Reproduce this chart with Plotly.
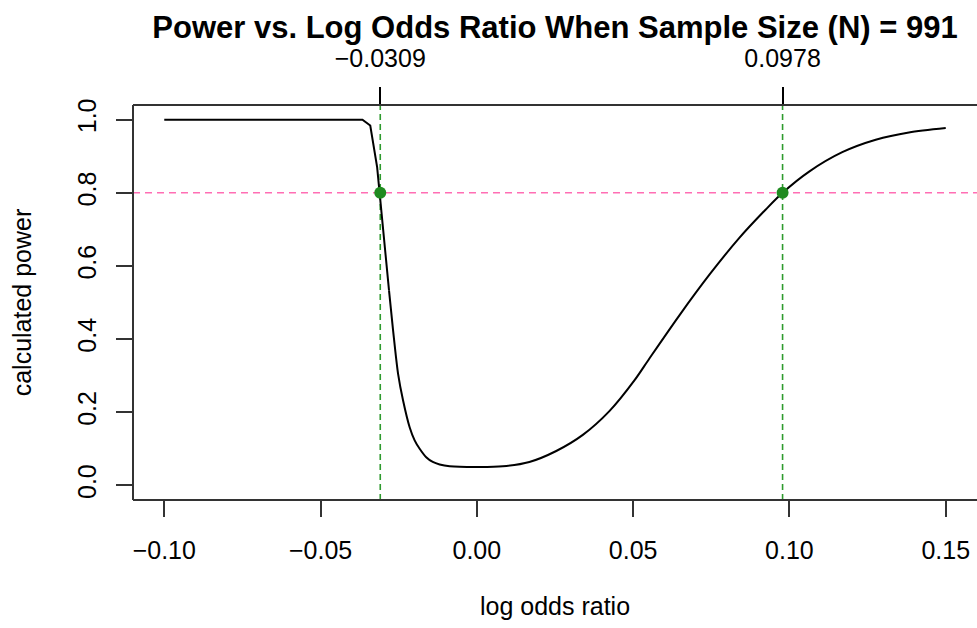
import plotly.graph_objects as go

# ---- data ----
log_odds = [-0.100, -0.0366, -0.0341, -0.0319, -0.0281, -0.0268, -0.0252, -0.0236,
            -0.0215, -0.0199, -0.0183, -0.0162, -0.0141, -0.0119, -0.0087, 0.0009,
            0.0083, 0.0168, 0.0254, 0.0339, 0.0424, 0.0504, 0.0552, 0.0648,
            0.0744, 0.0839, 0.0925, 0.0978, 0.1063, 0.1169, 0.1276, 0.1382, 0.1500]
power = [1.000, 1.000, 0.984, 0.870, 0.533, 0.424, 0.305, 0.232,
         0.159, 0.123, 0.100, 0.077, 0.064, 0.057, 0.052, 0.050,
         0.052, 0.064, 0.094, 0.138, 0.203, 0.287, 0.347, 0.465,
         0.576, 0.676, 0.755, 0.800, 0.858, 0.911, 0.945, 0.965, 0.977]

target_power = 0.8
crossings = [-0.0309, 0.0978]
crossing_labels = ["\u22120.0309", "0.0978"]

x_ticks = [-0.10, -0.05, 0.00, 0.05, 0.10, 0.15]
x_tick_labels = ["\u22120.10", "\u22120.05", "0.00", "0.05", "0.10", "0.15"]
y_ticks = [0.0, 0.2, 0.4, 0.6, 0.8, 1.0]
y_tick_labels = ["0.0", "0.2", "0.4", "0.6", "0.8", "1.0"]

title = "Power vs. Log Odds Ratio When Sample Size (N) = 991"
x_title = "log odds ratio"
y_title = "calculated power"

x_range = [-0.11, 0.16]
y_range = [-0.04, 1.04]

FONT = "Liberation Sans, Arial, Helvetica, sans-serif"
AXC = "#333333"

fig = go.Figure()

# reference lines
fig.add_trace(go.Scatter(x=[x_range[0], x_range[1]], y=[target_power, target_power],
                         mode="lines", line=dict(color="#FF6EB4", width=1.6, dash="7px,5px"),
                         hoverinfo="skip", showlegend=False))
for c in crossings:
    fig.add_trace(go.Scatter(x=[c, c], y=[y_range[0], y_range[1]], mode="lines",
                             line=dict(color="#2E9B2E", width=1.6, dash="6px,4px"),
                             hoverinfo="skip", showlegend=False))

# power curve: straight segments on the plateau/steep drop, smooth elsewhere
split = 4
fig.add_trace(go.Scatter(x=log_odds[:split + 1], y=power[:split + 1], mode="lines",
                         line=dict(color="black", width=2), showlegend=False))
fig.add_trace(go.Scatter(x=log_odds[split:], y=power[split:], mode="lines",
                         line=dict(color="black", width=2, shape="spline", smoothing=0.8),
                         showlegend=False))

# crossing points
fig.add_trace(go.Scatter(x=crossings, y=[target_power] * len(crossings), mode="markers",
                         marker=dict(color="#1F8A1F", size=12), showlegend=False))

# invisible trace on top axis
fig.add_trace(go.Scatter(x=crossings, y=[target_power] * len(crossings), xaxis="x2",
                         mode="markers", marker=dict(opacity=0), hoverinfo="skip",
                         showlegend=False))

fig.update_layout(
    width=977, height=628,
    margin=dict(l=133, r=0, t=105, b=128),
    paper_bgcolor="white", plot_bgcolor="white",
    font=dict(family=FONT, size=25, color="black"),
    title=dict(text="<b>" + title + "</b>", x=0.5, xref="paper", y=0.957, yref="container",
               xanchor="center", yanchor="middle", font=dict(size=31, family=FONT)),
    xaxis=dict(range=x_range, tickmode="array", tickvals=x_ticks, ticktext=x_tick_labels,
               ticks="outside", ticklen=16, tickwidth=2, tickcolor=AXC,
               showgrid=False, zeroline=False, showline=False,
               ticklabelstandoff=12,
               title=dict(text=x_title, standoff=34, font=dict(size=25))),
    xaxis2=dict(range=x_range, overlaying="x", side="top", tickmode="array",
                tickvals=crossings, ticktext=crossing_labels,
                ticks="outside", ticklen=17, tickwidth=2, tickcolor="black",
                showgrid=False, zeroline=False, showline=False, ticklabelstandoff=10,
                tickfont=dict(size=25)),
    yaxis=dict(range=y_range, tickmode="array", tickvals=y_ticks, ticktext=y_tick_labels,
               ticks="outside", ticklen=16, tickwidth=2, tickcolor=AXC, tickangle=-90,
               showgrid=False, zeroline=False, showline=False,
               ticklabelstandoff=10,
               title=dict(text=y_title, standoff=34, font=dict(size=25))),
    shapes=[
        dict(type="line", xref="paper", yref="paper", x0=0, x1=1.01, y0=1, y1=1,
             line=dict(color=AXC, width=2)),
        dict(type="line", xref="paper", yref="paper", x0=0, x1=1.01, y0=0, y1=0,
             line=dict(color=AXC, width=2)),
        dict(type="line", xref="paper", yref="paper", x0=0, x1=0, y0=0, y1=1,
             line=dict(color=AXC, width=2)),
    ],
)

fig.write_html("out.html")
